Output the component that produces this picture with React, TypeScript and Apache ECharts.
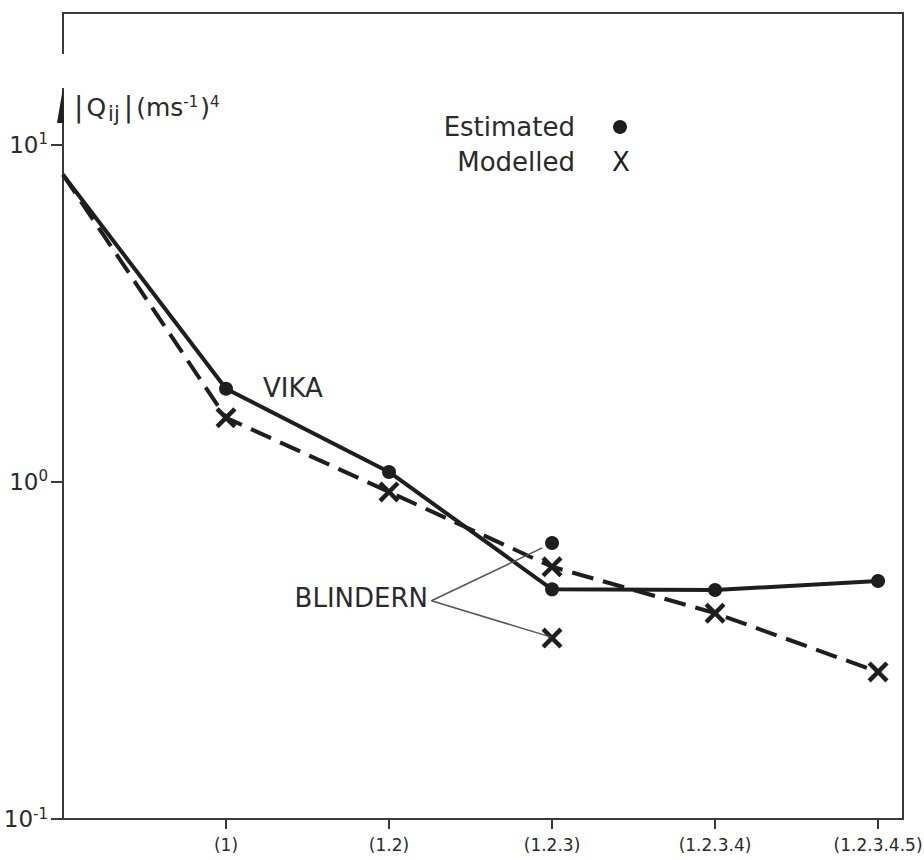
import React, { useEffect, useRef } from 'react';
import * as echarts from 'echarts';

// ---- data ----
const categories = ['', '(1)', '(1.2)', '(1.2.3)', '(1.2.3.4)', '(1.2.3.4.5)'];
const xPositions = [0, 1, 2, 3, 4, 5];
const vikaEstimated = [8.15, 1.89, 1.07, 0.48, 0.478, 0.508];
const vikaModelled = [8.15, 1.55, 0.934, 0.56, 0.408, 0.273];
const blindernX = 3;
const blindernEstimated = [0.659];
const blindernModelled = [0.344];
const yTickValues = [0.1, 1, 10];
const xTickValues = [1, 2, 3, 4, 5];
// annotation leader lines (data coordinates)
const blindernLabelAnchor = [2.26, 0.444];
const blindernLeaderEnds = [
  [2.94, 0.637],
  [2.99, 0.347],
];

const INK = '#1e1e1e';
const TEXT = '#2a2a2a';
const FONT = 'DejaVu Sans';
const X_SYMBOL =
  'path://M0,3L3,0L10,7L17,0L20,3L13,10L20,17L17,20L10,13L3,20L0,17L7,10Z';

export default function App() {
  const ref = useRef<HTMLDivElement>(null);

  useEffect(() => {
    if (!ref.current) return;
    const chart = echarts.init(ref.current, undefined, { renderer: 'svg' });

    const lineData = (vals: number[], symbol: string, size: number) =>
      vals.map((v, i) => ({
        value: [xPositions[i], v],
        symbol: i === 0 ? 'none' : symbol,
        symbolSize: size,
      }));

    const option: any = {
      animation: false,
      backgroundColor: '#ffffff',
      grid: {
        left: 63,
        top: 13,
        right: 21,
        bottom: 41,
        show: true,
        borderColor: '#3a3a3a',
        borderWidth: 2,
        backgroundColor: 'transparent',
        outerBoundsMode: 'none',
      },
      xAxis: {
        type: 'value',
        min: 0,
        max: 5.153,
        splitLine: { show: false },
        axisLine: { show: true, lineStyle: { color: '#3a3a3a', width: 2 } },
        axisTick: {
          show: true,
          length: 10,
          lineStyle: { color: '#3a3a3a', width: 2 },
          customValues: xTickValues,
        },
        axisLabel: {
          customValues: xTickValues,
          margin: 17,
          color: TEXT,
          fontFamily: FONT,
          fontSize: 17,
          formatter: (v: number) => categories[Math.round(v)] ?? '',
        },
      },
      yAxis: {
        type: 'log',
        logBase: 10,
        min: 0.1,
        max: 24.6,
        splitLine: { show: false },
        minorTick: { show: false },
        axisLine: { show: false },
        axisTick: {
          show: true,
          length: 12,
          lineStyle: { color: '#3a3a3a', width: 2 },
          customValues: yTickValues,
        },
        axisLabel: {
          customValues: yTickValues,
          margin: 15,
          color: TEXT,
          fontFamily: FONT,
          fontSize: 23,
          formatter: (v: number) => `{b|10}{s|${Math.round(Math.log10(v))}}`,
          rich: {
            b: { fontSize: 23, lineHeight: 26, fontFamily: FONT, color: TEXT },
            s: {
              fontSize: 15,
              lineHeight: 15,
              verticalAlign: 'top',
              fontFamily: FONT,
              color: TEXT,
            },
          },
        },
      },
      series: [
        {
          name: 'VIKA Estimated',
          type: 'line',
          data: lineData(vikaEstimated, 'circle', 14),
          lineStyle: { color: INK, width: 4 },
          itemStyle: { color: INK, opacity: 1 },
          showSymbol: true,
          z: 3,
        },
        {
          name: 'VIKA Modelled',
          type: 'line',
          data: lineData(vikaModelled, X_SYMBOL, 21),
          lineStyle: { color: INK, width: 4, type: [22, 10] },
          itemStyle: { color: INK, opacity: 1 },
          showSymbol: true,
          z: 3,
        },
        {
          name: 'BLINDERN Estimated',
          type: 'scatter',
          data: blindernEstimated.map((v) => [blindernX, v]),
          symbol: 'circle',
          symbolSize: 14,
          itemStyle: { color: INK, opacity: 1 },
          z: 4,
        },
        {
          name: 'BLINDERN Modelled',
          type: 'scatter',
          data: blindernModelled.map((v) => [blindernX, v]),
          symbol: X_SYMBOL,
          symbolSize: 21,
          itemStyle: { color: INK, opacity: 1 },
          z: 4,
          markLine: {
            silent: true,
            symbol: ['none', 'none'],
            label: { show: false },
            lineStyle: { color: '#555', width: 1.5, type: 'solid', opacity: 1 },
            data: blindernLeaderEnds.map((end) => [
              { coord: blindernLabelAnchor },
              { coord: end },
            ]),
          },
        },
      ],
      graphic: [
        // gap in the left axis and the arrow
        {
          type: 'rect',
          shape: { x: 58, y: 54, width: 10, height: 34 },
          style: { fill: '#ffffff' },
          z: 100,
        },
        {
          type: 'polygon',
          shape: { points: [[63, 88], [64, 123], [57, 123]] },
          style: { fill: INK },
          z: 101,
        },
        // y axis title
        {
          type: 'text',
          x: 74,
          y: 107,
          z: 101,
          style: {
            text: '{p||}{m|Q}{i|ij}{p||}{m|(ms}{s|-1}{m|)}{s|4}',
            verticalAlign: 'middle',
            fill: TEXT,
            fontFamily: FONT,
            rich: {
              p: { fontSize: 28, lineHeight: 34, fontFamily: FONT, fill: TEXT, padding: [0, 3, 0, 0] },
              m: { fontSize: 25, lineHeight: 30, fontFamily: FONT, fill: TEXT },
              i: { fontSize: 21, lineHeight: 24, verticalAlign: 'bottom', fontFamily: FONT, fill: TEXT, padding: [0, 4, 0, 2] },
              s: { fontSize: 15, lineHeight: 15, verticalAlign: 'top', fontFamily: FONT, fill: TEXT, padding: [4, 2, 0, 0] },
            },
          },
        },
        // legend
        {
          type: 'text',
          x: 575,
          y: 127,
          style: { text: 'Estimated', align: 'right', verticalAlign: 'middle', fontSize: 26, fontFamily: FONT, fill: TEXT },
          z: 101,
        },
        {
          type: 'circle',
          shape: { cx: 620, cy: 127, r: 7 },
          style: { fill: INK },
          z: 101,
        },
        {
          type: 'text',
          x: 575,
          y: 162,
          style: { text: 'Modelled', align: 'right', verticalAlign: 'middle', fontSize: 26, fontFamily: FONT, fill: TEXT },
          z: 101,
        },
        {
          type: 'text',
          x: 621,
          y: 162,
          style: { text: 'X', align: 'center', verticalAlign: 'middle', fontSize: 26, fontFamily: FONT, fill: INK },
          z: 101,
        },
        // station labels
        {
          type: 'text',
          x: 263,
          y: 388,
          style: { text: 'VIKA', align: 'left', verticalAlign: 'middle', fontSize: 26, fontFamily: FONT, fill: TEXT },
          z: 101,
        },
        {
          type: 'text',
          x: 428,
          y: 598,
          style: { text: 'BLINDERN', align: 'right', verticalAlign: 'middle', fontSize: 26, fontFamily: FONT, fill: TEXT },
          z: 101,
        },
      ],
    };

    chart.setOption(option);
    return () => chart.dispose();
  }, []);

  return (
    <div
      ref={ref}
      style={{ position: 'fixed', left: 0, top: 0, width: 924, height: 860, background: '#fff' }}
    />
  );
}
